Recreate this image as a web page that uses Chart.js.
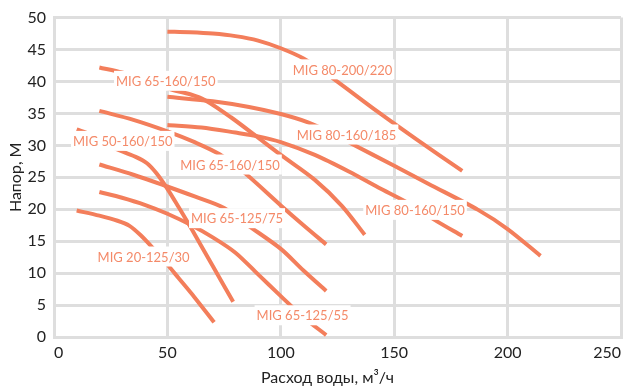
<!DOCTYPE html>
<html lang="ru">
<head>
<meta charset="utf-8">
<script src="https://cdn.jsdelivr.net/npm/chart.js@4.4.1/dist/chart.umd.min.js"></script>
<style>
  html, body { margin: 0; padding: 0; background: #fff; }
  #wrap { width: 627px; height: 388px; position: relative; }
</style>
</head>
<body>
<div id="wrap"><canvas id="pumpChart"></canvas></div>
<script>
// Кривые насосов: [расход м3/ч, напор м]
const mig80_200_220 = [[50,47.8],[60,47.7],[70,47.5],[80,47.1],[90,46.4],[100,45.2],[110,43.6],[121,41.0],[143,35.2],[160,30.9],[180,26.0]];
const mig65_160_150a = [[20,42.2],[30,41.4],[40,40.3],[51,38.8],[60,38.0],[67,37.0],[78,34.4],[90,31.2],[100,28.5],[115,24.6],[127,20.5],[137,16.0]];
const mig80_160_185 = [[50,37.6],[70,36.9],[86,36.0],[100,34.9],[112,33.6],[122,32.0],[131,30.3],[150,26.8],[165,24.0],[187,19.9],[200,16.9],[214.5,12.7]];
const mig80_160_150 = [[50,33.2],[65,32.8],[80,32.0],[90,31.4],[100,30.5],[115,28.5],[130,25.9],[143,23.4],[156,21.0],[168,18.3],[180,15.8]];
const mig65_160_150b = [[20,35.4],[35,34.0],[50,32.2],[62,30.5],[73,28.6],[84,25.7],[100,20.6],[110,17.5],[120,14.5]];
const mig50_160_150 = [[10,32.5],[16,31.7],[22,30.5],[29,29.2],[36,28.2],[41,27.2],[45,25.7],[50,23.2],[55,20.3],[61,16.7],[70,11.1],[79,5.5]];
const mig65_125_75 = [[20,27.0],[35,25.4],[49.6,23.6],[62,22.0],[75,20.2],[85,17.6],[100,13.8],[110,10.4],[120,7.2]];
const mig65_125_55 = [[20,22.7],[30,21.8],[40,20.7],[50,19.3],[60,17.6],[70,15.6],[80,13.2],[90,9.8],[100,6.4],[110,3.1],[120,0.3]];
const mig20_125_30 = [[10,19.8],[20,19.0],[28,18.2],[33.3,17.4],[38,16.0],[43.4,14.0],[49.6,11.5],[55,9.2],[62,6.2],[70.6,2.3]];

const curves = [mig80_200_220, mig65_160_150a, mig80_160_185, mig80_160_150, mig65_160_150b,
                mig50_160_150, mig65_125_75, mig65_125_55, mig20_125_30];
const curveNames = ['MIG 80-200/220', 'MIG 65-160/150', 'MIG 80-160/185', 'MIG 80-160/150', 'MIG 65-160/150',
                    'MIG 50-160/150', 'MIG 65-125/75', 'MIG 65-125/55', 'MIG 20-125/30'];
// где стоит подпись каждой кривой (в единицах осей)
const labelSpots = [[127.2,41.9],[49.3,40.1],[129,31.7],[159.2,19.9],[77.6,27.0],
                    [30.3,30.7],[80.7,18.6],[109.6,3.4],[39.5,12.6]];

const xTicks = [0, 50, 100, 150, 200, 250];
const yTicks = [0, 5, 10, 15, 20, 25, 30, 35, 40, 45, 50];
const xTitle = 'Расход воды, м³/ч';
const yTitle = 'Напор, М';

const lineColor = '#f37e5b';
const labelColor = '#f48a69';
const gridColor = '#dedede';
const textColor = '#222';

// подписи кривых на белой подложке поверх линий
const curveLabels = {
    id: 'curveLabels',
    afterDatasetsDraw(chart) {
        const { ctx, scales: { x, y } } = chart;
        ctx.save();
        ctx.font = '13px Lato';
        ctx.textAlign = 'center';
        ctx.textBaseline = 'middle';
        curveNames.forEach((name, i) => {
            const px = x.getPixelForValue(labelSpots[i][0]);
            const py = y.getPixelForValue(labelSpots[i][1]);
            const w = ctx.measureText(name).width;
            ctx.fillStyle = '#fff';
            ctx.fillRect(px - w / 2 - 2, py - 10, w + 4, 20);
            ctx.fillStyle = labelColor;
            ctx.fillText(name, px, py + 1);
        });
        // подпись оси X стоит чуть левее центра области графика
        const a = chart.chartArea;
        ctx.font = '16px Lato';
        ctx.fillStyle = textColor;
        ctx.fillText(xTitle, (a.left + a.right) / 2 - 10, chart.height - 10);
        ctx.restore();
    }
};

new Chart(document.getElementById('pumpChart'), {
    type: 'line',
    data: {
        datasets: curves.map((pts, i) => ({
            label: curveNames[i],
            data: pts.map(p => ({ x: p[0], y: p[1] })),
            borderColor: lineColor,
            borderWidth: 4,
            pointRadius: 0,
            fill: false,
            tension: 0.3
        }))
    },
    options: {
        responsive: true,
        maintainAspectRatio: false,
        animation: false,
        layout: { padding: { top: 15, right: 4, left: 0, bottom: 0 } },
        plugins: { legend: { display: false }, tooltip: { enabled: false } },
        scales: {
            x: {
                type: 'linear',
                min: 0, max: 250,
                afterBuildTicks: s => { s.ticks = xTicks.map(v => ({ value: v })); },
                afterFit: s => { s.height = 51; },
                grid: { color: gridColor, lineWidth: 3, drawTicks: false },
                border: { color: gridColor, width: 3 },
                ticks: { color: textColor, font: { family: 'Lato', size: 16 }, padding: 6, align: 'inner', maxRotation: 0 },
                title: { display: false }
            },
            y: {
                type: 'linear',
                min: 0, max: 50,
                afterBuildTicks: s => { s.ticks = yTicks.map(v => ({ value: v })); },
                afterFit: s => { s.width = 54; },
                grid: { color: gridColor, lineWidth: 3, drawTicks: false },
                border: { color: gridColor, width: 3 },
                ticks: { color: textColor, font: { family: 'Lato', size: 16 }, padding: 8 },
                title: { display: true, text: yTitle, color: textColor, font: { family: 'Lato', size: 16 }, padding: { top: 6, bottom: 0 } }
            }
        }
    },
    plugins: [curveLabels]
});
</script>
</body>
</html>
